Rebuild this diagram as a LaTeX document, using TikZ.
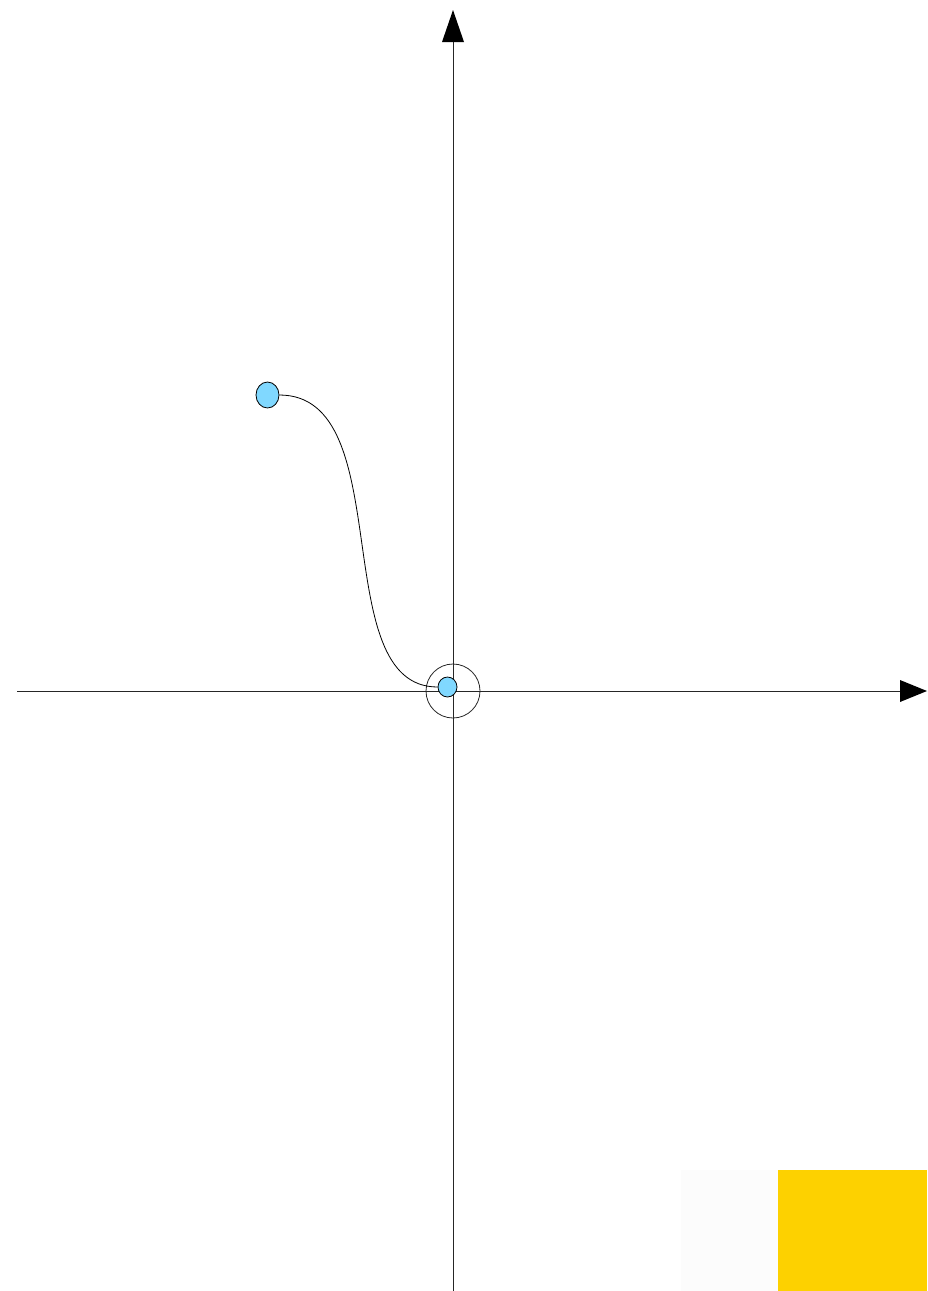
\documentclass[tikz,border=0pt]{standalone}
\usetikzlibrary{shapes.geometric}
\definecolor{dotblue}{HTML}{80D8FF}
\definecolor{boxyellow}{HTML}{FDD100}
\definecolor{boxgrey}{HTML}{FCFCFC}
\begin{document}
\begin{tikzpicture}[x=1pt,y=-1pt,
  axis/.style={draw=black!85,line width=0.8pt},
  head/.style={fill=black,draw=none},
  dot/.style={ellipse,draw=black,fill=dotblue,line width=0.8pt,inner sep=0pt},
  ring/.style={circle,draw=black!85,line width=0.8pt,inner sep=0pt,minimum size=54pt}]
\useasboundingbox (0,0) rectangle (927,1291);
% corner rectangles
\fill[boxgrey] (681,1170) rectangle (778,1291);
\fill[boxyellow] (778,1170) rectangle (927,1291);
% axes
\coordinate (ybot) at (453,1291);
\coordinate (ytop) at (453,42);
\coordinate (xleft) at (17,691);
\coordinate (xright) at (900,691);
\draw[axis] (ybot) -- (ytop);
\draw[axis] (xleft) -- (xright);
\fill[head] (453,10) -- (464,42) -- (442,42) -- cycle;
\fill[head] (927,691) -- (900,702) -- (900,680) -- cycle;
% origin ring
\node[ring] (ring) at (453,691) {};
% points
\node[dot,minimum width=23pt,minimum height=26pt] (p1) at (267.5,395) {};
\node[dot,minimum width=19pt,minimum height=20pt] (p0) at (447.5,687) {};
\draw[line width=0.8pt] (p1.east) .. controls (400,395) and (325,687) .. (p0.west);
\end{tikzpicture}
\end{document}
